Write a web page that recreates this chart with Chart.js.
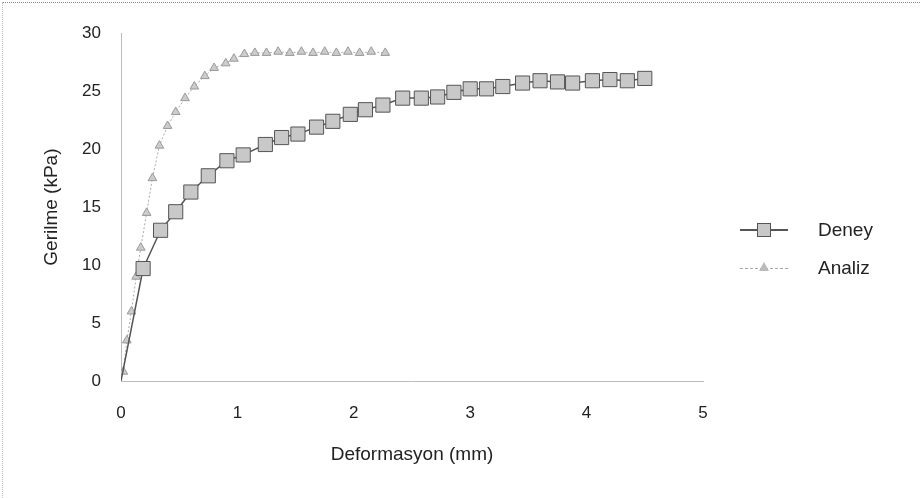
<!DOCTYPE html>
<html lang="tr">
<head>
  <meta charset="UTF-8">
  <script src="https://cdn.jsdelivr.net/npm/chart.js"></script>
  <style>
    body { margin: 0; background: #fff; }
    .frame {
      position: relative;
      width: 917px;
      height: 495px;
      border-top: 1px dotted #888;
      border-left: 1px dotted #bbb;
      margin: 2px 0 0 2px;
    }
    .legend {
      position: absolute;
      left: 737px;
      top: 215px;
      font-family: "Liberation Sans", Arial, sans-serif;
      font-size: 19px;
      color: #222;
    }
    .legend-row {
      display: flex;
      align-items: center;
      height: 24px;
      margin-bottom: 14px;
    }
    .sample {
      position: relative;
      width: 48px;
      height: 0;
      margin-right: 30px;
    }
    .sample.deney { border-top: 2px solid #555; }
    .sample.analiz { border-top: 1px dashed #aaa; }
    .sample .sq {
      position: absolute;
      left: 17px;
      top: -8px;
      width: 12px;
      height: 12px;
      background: #c8c8c8;
      border: 1px solid #555;
    }
    .sample .tri {
      position: absolute;
      left: 19px;
      top: -7px;
      width: 0;
      height: 0;
      border-left: 5px solid transparent;
      border-right: 5px solid transparent;
      border-bottom: 9px solid #bbb;
    }
  </style>
</head>
<body>
  <div class="frame">
    <canvas id="chart" width="917" height="495"></canvas>
    <div class="legend">
      <div class="legend-row"><span class="sample deney"><span class="sq"></span></span>Deney</div>
      <div class="legend-row"><span class="sample analiz"><span class="tri"></span></span>Analiz</div>
    </div>
  </div>

  <script>
    const deneyX = [0, 0.19, 0.34, 0.47, 0.6, 0.75, 0.91, 1.05, 1.24, 1.38, 1.52, 1.68, 1.82, 1.97, 2.1, 2.25, 2.42,
                    2.58, 2.72, 2.86, 3.0, 3.14, 3.28, 3.45, 3.6, 3.75, 3.88, 4.05, 4.2, 4.35, 4.5];
    const deneyY = [0, 9.7, 13.0, 14.6, 16.3, 17.7, 19.0, 19.5, 20.4, 21.0, 21.3, 21.9, 22.4, 23.0, 23.4, 23.8, 24.4,
                    24.4, 24.5, 24.9, 25.2, 25.2, 25.4, 25.7, 25.9, 25.8, 25.7, 25.9, 26.0, 25.9, 26.1];

    // Analiz (model) values
    const analizX = [0.02, 0.05, 0.09, 0.13, 0.17, 0.22, 0.27, 0.33, 0.4, 0.47, 0.55, 0.63, 0.72, 0.8, 0.9, 0.97,
                     1.06, 1.15, 1.25, 1.35, 1.45, 1.55, 1.65, 1.75, 1.85, 1.95, 2.05, 2.15, 2.27];
    const analizY = [0.8, 3.5, 6.0, 9.0, 11.5, 14.5, 17.5, 20.3, 22.0, 23.2, 24.4, 25.4, 26.3, 27.0, 27.4, 27.8,
                     28.2, 28.3, 28.3, 28.4, 28.3, 28.4, 28.3, 28.4, 28.3, 28.4, 28.3, 28.4, 28.3];

    const xTicks = [0, 1, 2, 3, 4, 5];
    const yTicks = [0, 5, 10, 15, 20, 25, 30];

    const pts = (xs, ys) => xs.map((x, i) => ({ x: x, y: ys[i] }));

    const tickFont = { family: '"Liberation Sans", Arial, sans-serif', size: 17 };
    const titleFont = { family: '"Liberation Sans", Arial, sans-serif', size: 19 };

    new Chart(document.getElementById('chart'), {
      type: 'scatter',
      data: {
        datasets: [{
          label: 'Deney',
          data: pts(deneyX, deneyY),
          showLine: true,
          borderColor: '#555',
          borderWidth: 1.5,
          pointStyle: 'rect',
          pointRadius: ctx => ctx.dataIndex === 0 ? 0 : 10,
          pointBackgroundColor: '#c8c8c8',
          pointBorderColor: '#555',
          pointBorderWidth: 1
        }, {
          label: 'Analiz',
          data: pts(analizX, analizY),
          showLine: true,
          borderColor: '#aaa',
          borderWidth: 1,
          borderDash: [2, 2],
          pointStyle: 'triangle',
          pointRadius: 5,
          pointBackgroundColor: '#ccc',
          pointBorderColor: '#999',
          pointBorderWidth: 1
        }]
      },
      options: {
        responsive: false,
        animation: false,
        layout: { padding: { left: 0, top: 30, right: 217, bottom: 0 } },
        plugins: {
          legend: { display: false },
          tooltip: { enabled: false }
        },
        scales: {
          x: {
            type: 'linear',
            min: 0,
            max: 5,
            afterBuildTicks: s => { s.ticks = xTicks.map(v => ({ value: v })); },
            afterFit: s => { s.height = 117; },
            grid: { display: false, drawTicks: false },
            border: { display: true, color: '#bbb', dash: [2, 3] },
            ticks: { padding: 22, color: '#222', font: tickFont },
            title: {
              display: true,
              text: 'Deformasyon (mm)',
              color: '#222',
              font: titleFont,
              padding: { top: 0, bottom: 32 }
            }
          },
          y: {
            min: 0,
            max: 30,
            afterBuildTicks: s => { s.ticks = yTicks.map(v => ({ value: v })); },
            afterFit: s => { s.width = 118; },
            grid: { display: false, drawTicks: false },
            border: { display: true, color: '#bbb', dash: [2, 3] },
            ticks: { padding: 20, color: '#222', font: tickFont },
            title: {
              display: true,
              text: 'Gerilme (kPa)',
              color: '#222',
              font: titleFont,
              padding: { top: 37, bottom: 0 }
            }
          }
        }
      }
    });
  </script>
</body>
</html>
